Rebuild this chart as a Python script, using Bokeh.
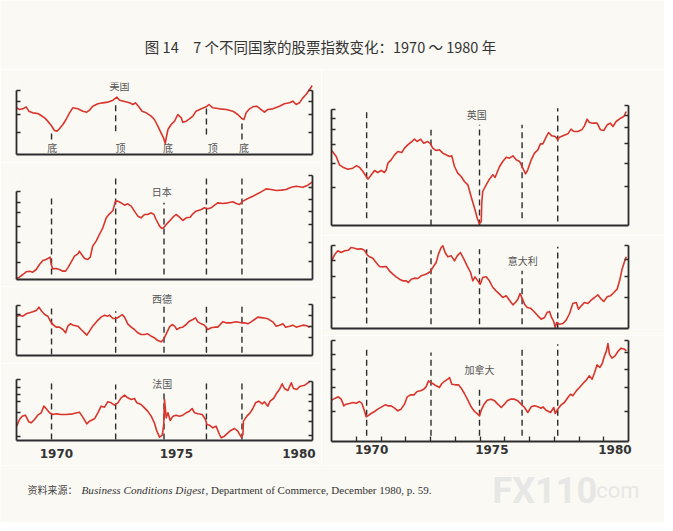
from bokeh.plotting import figure
from bokeh.models import Range1d, LinearAxis, FixedTicker, Label, CustomJSTickFormatter
from bokeh.layouts import row, column
from bokeh.embed import file_html
from bokeh.resources import INLINE

# ---------------- text ----------------
TITLE = "图 14\u30007 个不同国家的股票指数变化：1970 ～ 1980 年"
SOURCE_CN = "资料来源："
SOURCE_TITLE = "Business Conditions Digest"
SOURCE_REST = ", Department of Commerce, December 1980, p. 59."
WATERMARK = ["FX110", ".com"]

YEAR_LABELS = ["1970", "1975", "1980"]
YEAR_LABEL_POS = [1970.62, 1975.48, 1980.45]
YEAR_TICKS = [1970, 1971, 1972, 1973, 1974, 1975, 1976, 1977, 1978, 1979, 1980]

# stock-market turning points (dashed lines) and US labels
TURNING_DATES = [1970.42, 1973.02, 1974.98, 1976.70, 1978.14]
US_PHASE = ["底", "顶", "底", "顶", "底"]
US_PHASE_X = [1970.45, 1973.22, 1975.14, 1976.96, 1978.22]

COUNTRIES = ["美国", "日本", "西德", "法国", "英国", "意大利", "加拿大"]

# ---------------- series (index, arbitrary units) ----------------
US_X = [1969.01, 1969.12, 1969.26, 1969.39, 1969.50, 1969.66, 1969.86, 1970.00, 1970.14, 1970.27,
        1970.41, 1970.54, 1970.64, 1970.74, 1970.88, 1971.01, 1971.15, 1971.28, 1971.49, 1971.69,
        1971.85, 1971.96, 1972.09, 1972.30, 1972.50, 1972.70, 1972.91, 1973.07, 1973.18, 1973.38,
        1973.58, 1973.72, 1973.82, 1973.96, 1974.09, 1974.26, 1974.46, 1974.59, 1974.73, 1974.86,
        1974.96, 1975.03, 1975.07, 1975.14, 1975.27, 1975.41, 1975.54, 1975.68, 1975.74, 1975.88,
        1976.01, 1976.15, 1976.28, 1976.49, 1976.69, 1976.80, 1976.96, 1977.23, 1977.50, 1977.77,
        1977.97, 1978.15, 1978.22, 1978.31, 1978.45, 1978.58, 1978.74, 1978.88, 1979.05, 1979.19,
        1979.39, 1979.66, 1979.86, 1980.07, 1980.20, 1980.34, 1980.47, 1980.61, 1980.74, 1980.88,
        1981.00]
US_Y = [140, 135, 137, 143, 130, 125, 123, 117, 110, 100,
        87, 72, 70, 77, 90, 105, 125, 140, 137, 130,
        127, 133, 145, 152, 155, 157, 163, 172, 163, 159,
        155, 150, 155, 143, 130, 125, 115, 105, 85, 65,
        50, 33, 50, 75, 90, 100, 120, 110, 97, 100,
        107, 115, 130, 137, 143, 150, 140, 137, 135, 130,
        120, 107, 105, 125, 137, 143, 145, 137, 127, 135,
        137, 145, 152, 155, 160, 150, 155, 170, 180, 195,
        207]

JP_X = [1969.01, 1969.12, 1969.26, 1969.39, 1969.53, 1969.66, 1969.80, 1969.93, 1970.07, 1970.20,
        1970.31, 1970.36, 1970.41, 1970.47, 1970.61, 1970.74, 1970.88, 1970.99, 1971.08, 1971.22,
        1971.35, 1971.49, 1971.55, 1971.62, 1971.76, 1971.89, 1971.99, 1972.09, 1972.23, 1972.36,
        1972.50, 1972.64, 1972.77, 1972.91, 1973.01, 1973.11, 1973.24, 1973.38, 1973.51, 1973.65,
        1973.78, 1973.92, 1974.05, 1974.19, 1974.32, 1974.46, 1974.57, 1974.66, 1974.80, 1974.89,
        1974.96, 1975.07, 1975.20, 1975.34, 1975.47, 1975.61, 1975.74, 1975.88, 1976.04, 1976.15,
        1976.28, 1976.49, 1976.62, 1976.76, 1976.89, 1977.03, 1977.16, 1977.36, 1977.57, 1977.77,
        1977.91, 1978.04, 1978.18, 1978.38, 1978.58, 1978.85, 1979.12, 1979.32, 1979.53, 1979.73,
        1979.93, 1980.14, 1980.34, 1980.61, 1980.81, 1981.00]
JP_Y = [3, 7, 15, 23, 25, 22, 30, 45, 57, 60,
        65, 67, 45, 32, 33, 30, 25, 25, 35, 53,
        70, 77, 85, 77, 63, 60, 67, 100, 115, 135,
        155, 185, 197, 207, 235, 235, 230, 223, 227, 220,
        205, 190, 185, 195, 195, 200, 195, 180, 160, 153,
        155, 165, 175, 187, 195, 187, 177, 185, 187, 197,
        205, 210, 215, 212, 215, 223, 230, 228, 230, 233,
        228, 225, 235, 243, 250, 260, 272, 270, 267, 268,
        270, 277, 280, 277, 283, 293]

DE_X = [1969.01, 1969.12, 1969.26, 1969.39, 1969.53, 1969.66, 1969.80, 1969.91, 1970.00, 1970.14,
        1970.27, 1970.36, 1970.47, 1970.61, 1970.74, 1970.88, 1970.99, 1971.08, 1971.18, 1971.31,
        1971.49, 1971.62, 1971.76, 1971.85, 1971.96, 1972.09, 1972.26, 1972.43, 1972.57, 1972.70,
        1972.77, 1972.91, 1973.04, 1973.18, 1973.28, 1973.38, 1973.51, 1973.65, 1973.78, 1973.92,
        1974.05, 1974.19, 1974.32, 1974.46, 1974.59, 1974.73, 1974.86, 1974.96, 1975.07, 1975.20,
        1975.31, 1975.41, 1975.50, 1975.61, 1975.74, 1975.88, 1976.01, 1976.15, 1976.26, 1976.35,
        1976.49, 1976.62, 1976.76, 1976.89, 1977.03, 1977.16, 1977.26, 1977.36, 1977.50, 1977.70,
        1977.91, 1978.11, 1978.24, 1978.38, 1978.51, 1978.65, 1978.78, 1978.99, 1979.19, 1979.39,
        1979.53, 1979.66, 1979.80, 1979.91, 1980.07, 1980.20, 1980.34, 1980.47, 1980.61, 1980.74,
        1980.88]
DE_Y = [118, 121, 118, 125, 128, 131, 135, 145, 135, 123,
        118, 105, 93, 85, 85, 78, 68, 88, 95, 91,
        88, 78, 68, 61, 73, 88, 103, 115, 121, 118,
        121, 111, 111, 117, 123, 115, 95, 85, 78, 68,
        63, 63, 65, 58, 53, 45, 41, 48, 65, 85,
        93, 88, 78, 83, 85, 93, 103, 108, 113, 101,
        95, 91, 78, 83, 85, 85, 93, 101, 98, 98,
        101, 98, 98, 95, 101, 108, 115, 113, 110, 101,
        88, 91, 95, 85, 88, 91, 85, 88, 91, 90,
        85]

FR_X = [1969.01, 1969.12, 1969.23, 1969.36, 1969.50, 1969.59, 1969.73, 1969.86, 1970.00, 1970.11,
        1970.20, 1970.34, 1970.47, 1970.61, 1970.81, 1971.01, 1971.28, 1971.55, 1971.69, 1971.85,
        1971.96, 1972.16, 1972.30, 1972.43, 1972.57, 1972.70, 1972.84, 1972.97, 1973.11, 1973.24,
        1973.38, 1973.51, 1973.65, 1973.78, 1973.88, 1974.05, 1974.19, 1974.32, 1974.46, 1974.59,
        1974.69, 1974.80, 1974.91, 1974.97, 1975.00, 1975.07, 1975.14, 1975.23, 1975.34, 1975.47,
        1975.61, 1975.74, 1975.88, 1976.01, 1976.12, 1976.22, 1976.35, 1976.53, 1976.66, 1976.72,
        1976.82, 1976.96, 1977.09, 1977.23, 1977.30, 1977.43, 1977.57, 1977.70, 1977.84, 1977.97,
        1978.11, 1978.18, 1978.20, 1978.34, 1978.47, 1978.58, 1978.69, 1978.82, 1978.96, 1979.05,
        1979.19, 1979.28, 1979.42, 1979.53, 1979.66, 1979.77, 1979.86, 1980.00, 1980.14, 1980.23,
        1980.36, 1980.50, 1980.68, 1980.88]
FR_Y = [43, 63, 73, 76, 56, 53, 63, 76, 83, 103,
        96, 83, 78, 80, 78, 78, 80, 85, 70, 50,
        58, 65, 83, 103, 100, 116, 113, 106, 113, 128,
        136, 128, 123, 126, 113, 108, 98, 88, 73, 53,
        28, 10, 16, 48, 123, 68, 83, 60, 73, 76,
        73, 76, 83, 88, 96, 83, 80, 78, 63, 48,
        46, 38, 43, 18, 8, 13, 23, 31, 36, 28,
        10, 18, 58, 73, 83, 96, 113, 118, 110, 116,
        103, 118, 126, 140, 153, 170, 156, 150, 173, 156,
        153, 163, 166, 176]

UK_X = [1969.01, 1969.19, 1969.32, 1969.46, 1969.66, 1969.86, 1970.00, 1970.13, 1970.27, 1970.40,
        1970.47, 1970.58, 1970.74, 1970.87, 1971.01, 1971.14, 1971.21, 1971.28, 1971.41, 1971.55,
        1971.68, 1971.84, 1971.95, 1972.08, 1972.25, 1972.35, 1972.46, 1972.60, 1972.73, 1972.89,
        1973.00, 1973.09, 1973.23, 1973.36, 1973.50, 1973.63, 1973.77, 1973.86, 1973.97, 1974.10,
        1974.24, 1974.37, 1974.51, 1974.64, 1974.78, 1974.89, 1974.97, 1975.05, 1975.07, 1975.11,
        1975.25, 1975.38, 1975.52, 1975.61, 1975.69, 1975.79, 1975.92, 1976.06, 1976.19, 1976.33,
        1976.46, 1976.60, 1976.73, 1976.84, 1976.93, 1977.07, 1977.20, 1977.34, 1977.44, 1977.54,
        1977.67, 1977.77, 1977.90, 1978.04, 1978.14, 1978.21, 1978.35, 1978.55, 1978.68, 1978.79,
        1978.95, 1979.11, 1979.22, 1979.33, 1979.42, 1979.56, 1979.73, 1979.87, 1980.00, 1980.14,
        1980.27, 1980.37, 1980.50, 1980.68, 1980.81, 1980.91]
UK_Y = [225, 207, 182, 175, 169, 172, 179, 175, 162, 147,
        139, 149, 165, 159, 165, 159, 167, 187, 197, 212,
        222, 219, 232, 242, 252, 259, 252, 259, 247, 252,
        245, 232, 225, 227, 217, 212, 207, 209, 177, 157,
        147, 132, 122, 87, 52, 22, 5, 12, 67, 102,
        122, 139, 152, 144, 159, 177, 192, 205, 202, 209,
        197, 192, 172, 155, 167, 197, 217, 227, 245, 245,
        265, 279, 269, 267, 257, 265, 269, 275, 289, 282,
        282, 287, 299, 319, 309, 307, 307, 287, 285, 302,
        307, 297, 312, 322, 327, 342]

IT_X = [1969.01, 1969.12, 1969.26, 1969.39, 1969.53, 1969.69, 1969.79, 1969.93, 1970.06, 1970.20,
        1970.33, 1970.44, 1970.54, 1970.67, 1970.80, 1970.94, 1971.07, 1971.21, 1971.34, 1971.48,
        1971.61, 1971.75, 1971.88, 1972.02, 1972.11, 1972.22, 1972.35, 1972.49, 1972.62, 1972.76,
        1972.87, 1973.00, 1973.09, 1973.23, 1973.32, 1973.43, 1973.50, 1973.59, 1973.70, 1973.84,
        1973.97, 1974.08, 1974.21, 1974.35, 1974.48, 1974.62, 1974.71, 1974.80, 1974.91, 1975.01,
        1975.11, 1975.25, 1975.38, 1975.52, 1975.65, 1975.79, 1975.92, 1976.06, 1976.19, 1976.33,
        1976.43, 1976.53, 1976.62, 1976.70, 1976.80, 1976.91, 1977.04, 1977.18, 1977.34, 1977.47,
        1977.61, 1977.71, 1977.81, 1977.88, 1977.98, 1978.04, 1978.10, 1978.21, 1978.35, 1978.48,
        1978.62, 1978.75, 1978.89, 1978.98, 1979.09, 1979.22, 1979.36, 1979.49, 1979.63, 1979.76,
        1979.90, 1980.00, 1980.14, 1980.27, 1980.41, 1980.54, 1980.64, 1980.74, 1980.84, 1980.91]
IT_Y = [203, 221, 233, 228, 233, 235, 243, 241, 238, 239,
        235, 221, 215, 211, 198, 186, 185, 186, 173, 163,
        155, 148, 143, 143, 138, 148, 151, 150, 158, 161,
        165, 171, 183, 198, 223, 243, 248, 228, 215, 218,
        203, 218, 228, 208, 188, 168, 143, 155, 143, 133,
        153, 155, 143, 123, 113, 103, 93, 98, 85, 71,
        78, 88, 105, 91, 73, 63, 61, 51, 38, 28,
        33, 48, 51, 35, 21, 3, 18, 13, 15, 25,
        45, 75, 78, 58, 68, 78, 75, 85, 93, 101,
        88, 81, 95, 98, 108, 118, 143, 178, 201, 215]

CA_X = [1969.01, 1969.15, 1969.28, 1969.39, 1969.50, 1969.59, 1969.73, 1969.86, 1970.00, 1970.13,
        1970.23, 1970.31, 1970.40, 1970.47, 1970.60, 1970.74, 1970.87, 1971.03, 1971.17, 1971.28,
        1971.41, 1971.55, 1971.68, 1971.81, 1971.95, 1972.06, 1972.19, 1972.33, 1972.46, 1972.60,
        1972.73, 1972.82, 1972.92, 1973.00, 1973.09, 1973.23, 1973.36, 1973.46, 1973.59, 1973.70,
        1973.77, 1973.86, 1974.00, 1974.13, 1974.24, 1974.37, 1974.51, 1974.64, 1974.78, 1974.91,
        1974.98, 1975.05, 1975.15, 1975.29, 1975.45, 1975.59, 1975.72, 1975.86, 1975.99, 1976.10,
        1976.23, 1976.39, 1976.53, 1976.66, 1976.80, 1976.93, 1977.07, 1977.20, 1977.34, 1977.47,
        1977.54, 1977.67, 1977.85, 1977.98, 1978.04, 1978.14, 1978.28, 1978.41, 1978.55, 1978.66,
        1978.75, 1978.89, 1979.02, 1979.16, 1979.29, 1979.42, 1979.53, 1979.63, 1979.73, 1979.84,
        1979.94, 1980.03, 1980.11, 1980.17, 1980.23, 1980.33, 1980.46, 1980.57, 1980.70, 1980.84,
        1980.91]
CA_Y = [124, 130, 134, 127, 107, 112, 114, 117, 115, 120,
        114, 97, 74, 77, 84, 90, 97, 104, 110, 107,
        107, 100, 92, 97, 112, 134, 140, 140, 150, 152,
        157, 164, 182, 177, 174, 167, 162, 174, 182, 187,
        192, 172, 170, 170, 160, 144, 124, 104, 90, 82,
        77, 94, 110, 124, 127, 122, 112, 102, 112, 122,
        127, 127, 122, 112, 102, 87, 104, 107, 104, 100,
        104, 94, 87, 102, 84, 97, 110, 117, 132, 142,
        137, 152, 162, 174, 184, 197, 187, 207, 230, 222,
        234, 257, 272, 294, 262, 250, 257, 270, 280, 277,
        272]

# ---------------- style ----------------
BG = "#faf9f4"
RED = "#d9352c"
INK = "#2c2c2c"
LABEL_INK = "#555555"
CJK = "Noto Sans CJK SC"
X0, X1 = 1969.0, 1981.0
PAGE_W = 664

LEFT = dict(w=321, bl=16, br=9)
RIGHT = dict(w=343, bl=10, br=36)

PANELS = [
    # left column
    dict(key="US", col=LEFT, h=93, bt=13, bb=8, ymax=216,
         lt=[67, 120, 158, 193], rt=[67, 120, 158, 193],
         dash=[(45, 70), (70, 155), (33, 33), (60, 145), (45, 105)],
         label=(1973.18, 207), years=None),
    dict(key="JP", col=LEFT, h=124, bt=11, bb=7, ymax=318,
         lt=[50, 110, 160, 200, 230, 265], rt=[53, 110, 165, 205, 240, 275, 312],
         dash=[(15, 255), (15, 306), (15, 230), (15, 312), (15, 312)],
         label=(1974.89, 263), years=None),
    dict(key="DE", col=LEFT, h=77, bt=7, bb=8, ymax=186,
         lt=[48, 88, 123, 151], rt=[53, 88, 121, 153],
         dash=[(3, 151), (8, 133), (8, 153), (8, 148), (8, 151)],
         label=(1974.90, 171), years=None),
    dict(key="FR", col=LEFT, h=102, bt=14, bb=25, ymax=189,
         lt=[13, 85, 116, 138, 160, 183], rt=[16, 56, 90, 116, 138, 178],
         dash=[(3, 178), (3, 168), (3, 150), (3, 176), (3, 178)],
         label=(1974.91, 170), years="labels"),
    # right column
    dict(key="UK", col=RIGHT, h=166, bt=34, bb=10, ymax=366,
         lt=[114, 187, 242, 289, 322, 349], rt=[117, 187, 245, 295, 329, 359],
         dash=[(22, 342), (0, 287), (0, 302), (22, 302), (12, 352)],
         label=(1974.87, 332), years=None),
    dict(key="IT", col=RIGHT, h=100, bt=9, bb=7, ymax=252,
         lt=[93, 155, 203, 248], rt=[93, 155, 208, 248],
         dash=[(15, 238), (13, 235), (13, 238), (13, 173), (0, 245)],
         label=(1976.73, 203), years=None),
    dict(key="CA", col=RIGHT, h=130, bt=4, bb=24, ymax=306,
         lt=[90, 162, 217, 260, 302], rt=[90, 162, 217, 267, 302],
         dash=[(17, 287), (17, 267), (17, 157), (17, 287), (17, 292)],
         label=(1974.98, 217), years="ticks"),
]

SERIES = {"US": (US_X, US_Y), "JP": (JP_X, JP_Y), "DE": (DE_X, DE_Y), "FR": (FR_X, FR_Y),
          "UK": (UK_X, UK_Y), "IT": (IT_X, IT_Y), "CA": (CA_X, CA_Y)}
NAMES = dict(zip(["US", "JP", "DE", "FR", "UK", "IT", "CA"], COUNTRIES))


def style_y(ax, ticks):
    ax.ticker = FixedTicker(ticks=ticks)
    ax.bounds = (0, max(ticks))
    ax.axis_line_color = INK
    ax.axis_line_width = 1.8
    ax.major_tick_line_color = INK
    ax.major_tick_line_width = 1.5
    ax.major_tick_in = 4
    ax.major_tick_out = 0
    ax.minor_tick_line_color = None
    # the reference shows unlabeled brackets: labels are not drawn
    ax.major_label_text_color = None
    ax.major_label_text_font_size = "1px"
    ax.major_label_standoff = 0


def make_panel(cfg):
    col = cfg["col"]
    p = figure(width=col["w"], height=cfg["h"],
               x_range=Range1d(X0, X1), y_range=Range1d(0, cfg["ymax"]),
               output_backend="svg", toolbar_location=None,
               min_border_left=col["bl"], min_border_right=col["br"],
               min_border_top=cfg["bt"], min_border_bottom=cfg["bb"],
               background_fill_color=BG, border_fill_color=BG)
    p.outline_line_color = None
    p.grid.visible = False

    style_y(p.yaxis[0], cfg["lt"])
    ra = LinearAxis()
    style_y(ra, cfg["rt"])
    p.add_layout(ra, "right")

    xa = p.xaxis[0]
    xa.axis_line_color = INK
    xa.axis_line_width = 1.8
    xa.major_tick_in = 0
    xa.major_tick_out = 0
    xa.major_tick_line_color = None
    if cfg["years"] is None:
        xa.ticker = FixedTicker(ticks=[])
        xa.major_label_text_color = None
        xa.major_label_text_font_size = "1px"
        xa.major_label_standoff = 0
    else:
        if cfg["years"] == "ticks":
            xa.ticker = FixedTicker(ticks=YEAR_LABEL_POS, minor_ticks=YEAR_TICKS)
            xa.minor_tick_in = 5
            xa.minor_tick_out = 0
            xa.minor_tick_line_color = INK
            xa.minor_tick_line_width = 1.3
            xa.major_label_standoff = 3
        else:
            xa.ticker = FixedTicker(ticks=YEAR_LABEL_POS)
            xa.minor_tick_line_color = None
            xa.major_label_standoff = 8
        xa.formatter = CustomJSTickFormatter(
            args=dict(pos=YEAR_LABEL_POS, labels=YEAR_LABELS),
            code="""
            let best = 0;
            for (let i = 0; i < pos.length; i++) {
              if (Math.abs(pos[i] - tick) < Math.abs(pos[best] - tick)) best = i;
            }
            return labels[best];
            """)
        xa.major_label_text_font = "DejaVu Sans"
        xa.major_label_text_font_style = "bold"
        xa.major_label_text_font_size = "12px"
        xa.major_label_text_color = "#333333"

    # dashed turning-point lines
    lo = [d[0] for d in cfg["dash"]]
    hi = [d[1] for d in cfg["dash"]]
    p.segment(x0=TURNING_DATES, y0=lo, x1=TURNING_DATES, y1=hi,
              line_color=INK, line_width=1.4, line_dash="6 4")

    xs, ys = SERIES[cfg["key"]]
    n = min(len(xs), len(ys))
    p.line(xs[:n], ys[:n], line_color=RED, line_width=1.6, line_join="round")

    lx, ly = cfg["label"]
    p.add_layout(Label(x=lx, y=ly, text=NAMES[cfg["key"]], text_align="center",
                       text_baseline="middle", text_font=CJK, text_font_size="10px",
                       text_color=LABEL_INK))
    if cfg["key"] == "US":
        for t, x in zip(US_PHASE, US_PHASE_X):
            p.add_layout(Label(x=x, y=20, text=t, text_align="center",
                               text_baseline="middle", text_font=CJK,
                               text_font_size="10px", text_color=LABEL_INK))
    return p


panels = [make_panel(c) for c in PANELS]
left_col = column(*panels[:4], spacing=0)
right_col = column(*panels[4:], spacing=0)

# title strip
tfig = figure(width=PAGE_W, height=69, x_range=Range1d(0, PAGE_W), y_range=Range1d(0, 69),
              output_backend="svg", toolbar_location=None, x_axis_type=None, y_axis_type=None,
              min_border=0, background_fill_color=BG, border_fill_color=BG)
tfig.outline_line_color = None
tfig.grid.visible = False
tfig.add_layout(Label(x=320, y=23, text=TITLE, text_align="center", text_baseline="middle",
                      text_font=CJK, text_font_size="14.5px", text_color="#333333"))

# footer strip
ffig = figure(width=PAGE_W, height=57, x_range=Range1d(0, PAGE_W), y_range=Range1d(0, 57),
              output_backend="svg", toolbar_location=None, x_axis_type=None, y_axis_type=None,
              min_border=0, background_fill_color=BG, border_fill_color=BG)
ffig.outline_line_color = None
ffig.grid.visible = False
ffig.add_layout(Label(x=492, y=32, text=WATERMARK[0], text_font="Roboto", text_font_style="bold",
                      text_font_size="36px", text_color="#e7e7e5", text_baseline="alphabetic"))
ffig.add_layout(Label(x=590, y=32, text=WATERMARK[1], text_font="Roboto",
                      text_font_size="22px", text_color="#e7e7e5", text_baseline="alphabetic"))
ffig.add_layout(Label(x=27, y=33, text=SOURCE_CN, text_font=CJK, text_font_size="10px",
                      text_color="#444444", text_baseline="alphabetic"))
ffig.add_layout(Label(x=81, y=33, text=SOURCE_TITLE, text_font="Liberation Serif",
                      text_font_style="italic", text_font_size="11.2px",
                      text_color="#333333", text_baseline="alphabetic"))
ffig.add_layout(Label(x=205, y=33, text=SOURCE_REST, text_font="Liberation Serif",
                      text_font_size="11px", text_color="#333333", text_baseline="alphabetic"))

layout = column(tfig, row(left_col, right_col, spacing=0), ffig, spacing=0)

open("out.html", "w").write(file_html(layout, INLINE))
